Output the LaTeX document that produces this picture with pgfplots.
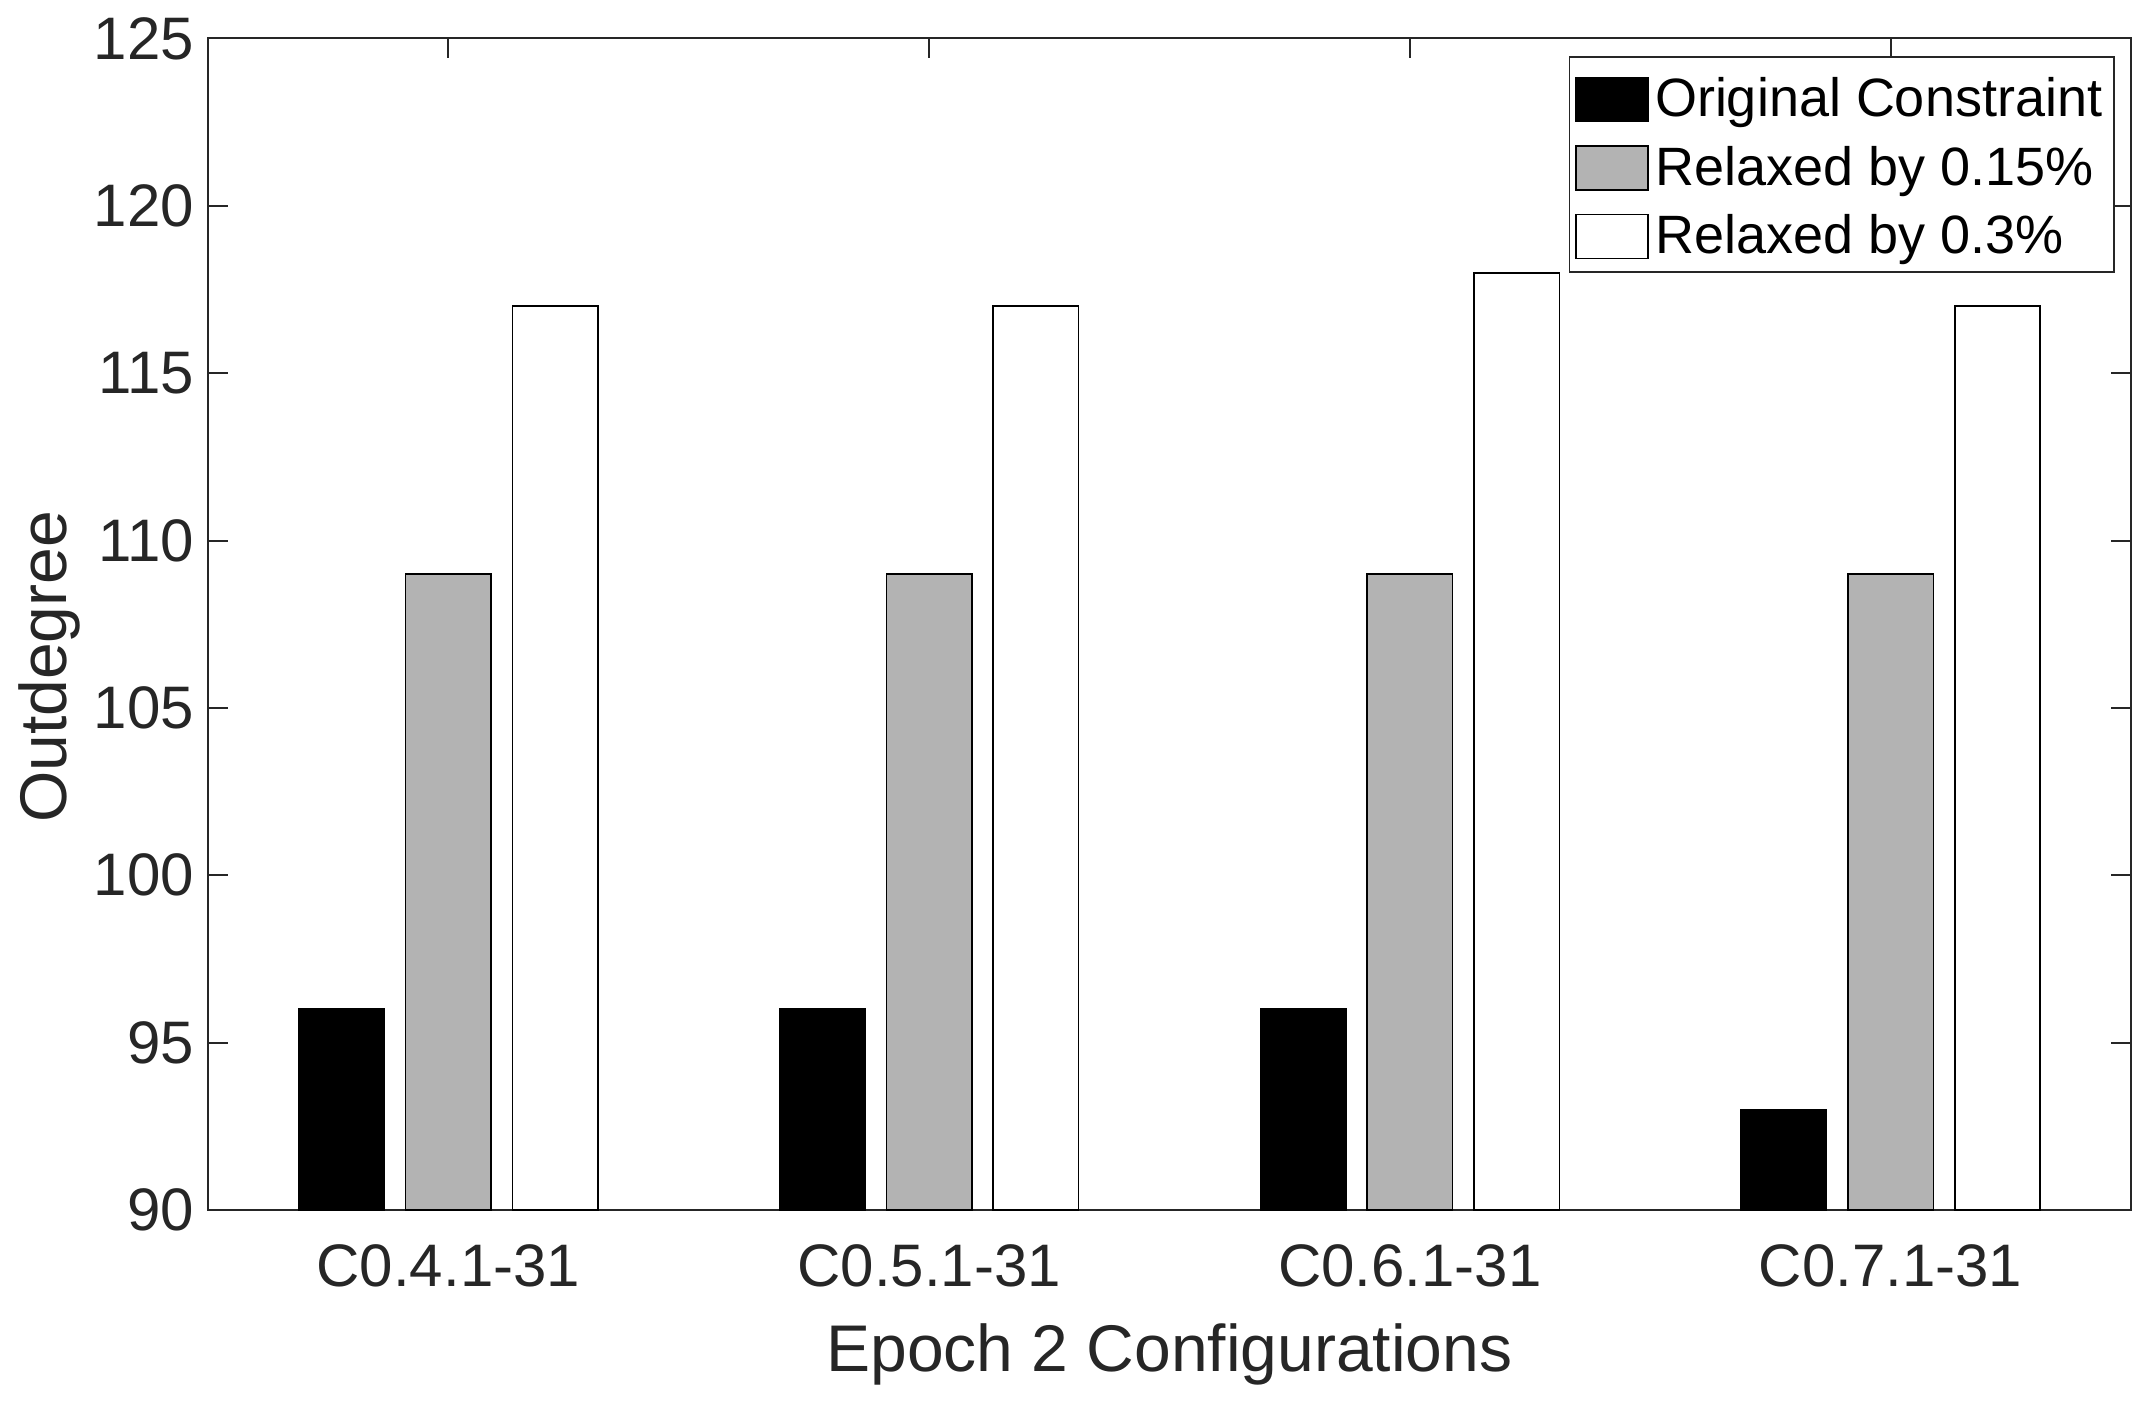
\documentclass[border=0pt]{standalone}
\usepackage{fontspec}
\setmainfont{Liberation Sans}
\usepackage{pgfplots}
\pgfplotsset{compat=1.18}
\definecolor{axcol}{HTML}{262626}
\definecolor{bargray}{HTML}{B3B3B3}
\pgfplotsset{sqlegend/.style={legend image code/.code={\draw[##1] (0pt,-6.45pt) rectangle (18pt,4.55pt);}}}
\begin{document}
\begin{tikzpicture}
\begin{axis}[
  at={(0,0)}, anchor=south west,
  scale only axis,
  width=480.75pt, height=292.9pt,
  xmin=0.5, xmax=4.5, ymin=90, ymax=125,
  xtick={1,2,3,4},
  xticklabels={C0.4.1-31,C0.5.1-31,C0.6.1-31,C0.7.1-31},
  ytick={90,95,100,105,110,115,120,125},
  tick align=inside,
  xtick pos=both, ytick pos=both,
  major tick length=5pt,
  axis line style={draw=axcol, line width=0.5pt},
  every tick/.style={draw=axcol, line width=0.5pt},
  /pgf/number format/assume math mode=true,
  ticklabel style={font=\fontsize{15}{18}\selectfont, text=axcol},
  xticklabel style={anchor=base, yshift=-19.25pt},
  label style={font=\fontsize{16.5}{19}\selectfont, text=axcol},
  xlabel={Epoch 2 Configurations},
  ylabel={Outdegree},
  xlabel style={at={(axis description cs:0.5,-0.13742)}, anchor=base},
  ylabel style={at={(axis description cs:-0.07384,0.4635)}, anchor=base},
  legend style={at={(axis description cs:1,1)}, anchor=north east,
    xshift=-4pt, yshift=-4.4pt,
    draw=axcol, line width=0.4pt, fill=white,
    inner xsep=1.5pt, inner ysep=3.2pt,
    font=\fontsize{13.5}{16}\selectfont,
    row sep=4pt, column sep=0pt,
    nodes={inner xsep=1.5pt, inner ysep=0pt, text height=11.7pt, text depth=1.3pt}},
  legend cell align=left,
]
\addplot[ybar, bar width=0.1778, bar shift=-0.2222, fill=black, draw=black, line width=0.4pt, sqlegend]
  coordinates {(1,96) (2,96) (3,96) (4,93)};
\addplot[ybar, bar width=0.1778, bar shift=0, fill=bargray, draw=black, line width=0.4pt, sqlegend]
  coordinates {(1,109) (2,109) (3,109) (4,109)};
\addplot[ybar, bar width=0.1778, bar shift=0.2222, fill=white, draw=black, line width=0.4pt, sqlegend]
  coordinates {(1,117) (2,117) (3,118) (4,117)};
\legend{Original Constraint, Relaxed by 0.15\%, Relaxed by 0.3\%}
\end{axis}
\path (-52pt,-48.75pt) rectangle (487pt,302.5pt);
\end{tikzpicture}
\end{document}
